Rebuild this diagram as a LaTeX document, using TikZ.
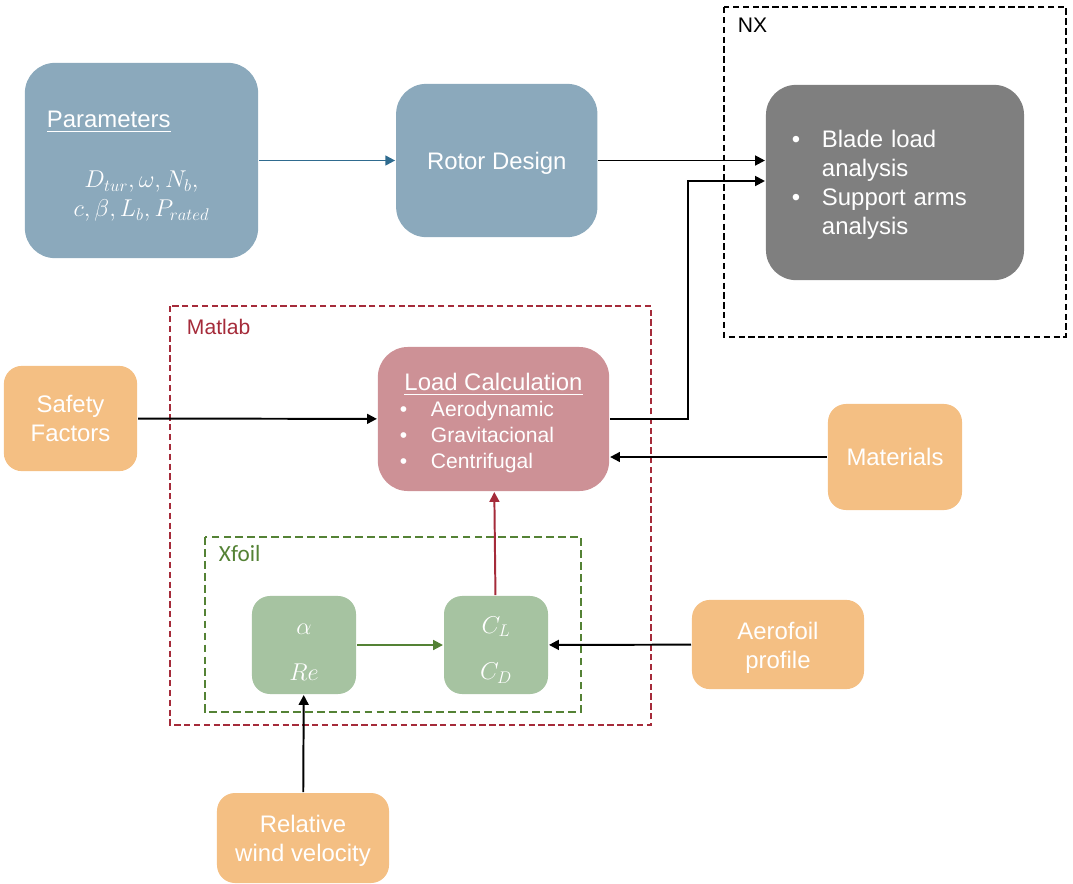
\documentclass[tikz,border=0pt]{standalone}
\usepackage{amsmath}
\usepackage{fontspec}
\setmainfont{Liberation Sans}
\newfontfamily\calibri{Carlito}
\usetikzlibrary{arrows.meta,positioning}

\definecolor{paramblue}{HTML}{8BA9BC}
\definecolor{arrowblue}{HTML}{2F6B8F}
\definecolor{loadpink}{HTML}{CD9196}
\definecolor{inputorange}{HTML}{F4BF83}
\definecolor{xfoilgreen}{HTML}{A6C3A1}
\definecolor{matlabred}{HTML}{A52B3A}
\definecolor{darkgreen}{HTML}{548235}
\definecolor{nxgray}{HTML}{7F7F7F}

\begin{document}
\begin{tikzpicture}[x=0.025cm,y=-0.025cm,>={Triangle[length=7pt,width=7pt]},line width=1.4pt,node distance=2cm,
    block/.style={rounded corners=0.75cm,text=white,font=\fontsize{17}{20.6}\selectfont,align=center,inner sep=0pt},
    bluebox/.style={block,fill=paramblue},
    input/.style={block,fill=inputorange,rounded corners=0.45cm,minimum width=4.3cm,minimum height=2.25cm},
    coeff/.style={block,fill=xfoilgreen,rounded corners=0.45cm,minimum width=2.6cm,minimum height=2.45cm},
    frame/.style={line width=1pt,dash pattern=on 4.5pt off 2.5pt},
    framelabel/.style={anchor=west,inner sep=0pt,font=\fontsize{15}{18}\selectfont}]
      \useasboundingbox (0,0) rectangle (1073,883);

      \draw[frame] (724,7) rectangle (1066,337);
      \node[framelabel] (nxlabel) at (737,25) {NX};
      \draw[frame,matlabred] (170,306) rectangle (651,725);
      \node[framelabel,text=matlabred] (matlablabel) at (186,327) {Matlab};
      \draw[frame,darkgreen,dash pattern=on 5.5pt off 3pt] (205,537) rectangle (581,712);
      \node[framelabel,text=darkgreen,font=\calibri\fontsize{16.5}{20}\selectfont] (xfoillabel) at (218,554) {Xfoil};

      \node[bluebox,minimum width=5.83cm,minimum height=4.88cm] (param) at (141.5,160.5)
        {\rule{0pt}{20pt}\makebox[4.725cm][l]{\underline{Parameters}}\\[22pt]$D_{tur},\omega,N_b,$\\$c,\beta,L_b,P_{rated}$};
      \node[bluebox,minimum width=5.03cm,minimum height=3.83cm] (rotor) [right=3.4cm of param] {\rule{0pt}{16.4pt}Rotor Design};
      \node[block,fill=nxgray,minimum width=6.45cm,minimum height=4.88cm,text width=5.15cm,align=left] (analysis) at (895,182.5)
        {\rule{0pt}{15.7pt}\makebox[0.75cm][l]{\textbullet}Blade load\\\hspace*{0.75cm}analysis\\\makebox[0.75cm][l]{\textbullet}Support arms\\\hspace*{0.75cm}analysis};

      \node[block,fill=loadpink,minimum width=5.78cm,minimum height=3.6cm,font=\fontsize{15}{18.4}\selectfont] (load) at (493.5,419)
        {\rule{0pt}{18pt}{\fontsize{17}{18.4}\selectfont\underline{Load Calculation}}\\
         \makebox[4.675cm][l]{\makebox[0.775cm][l]{\textbullet}Aerodynamic}\\
         \makebox[4.675cm][l]{\makebox[0.775cm][l]{\textbullet}Gravitacional}\\
         \makebox[4.675cm][l]{\makebox[0.775cm][l]{\textbullet}Centrifugal}};
      \node[input,minimum width=3.33cm,minimum height=2.63cm] (safety) at (70.5,418.5) {Safety\\Factors};
      \node[input,minimum width=3.35cm,minimum height=2.65cm] (materials) at (895,457) {Materials};

      \node[coeff] (flow) at (304,645) {\rule{0pt}{17.5pt}$\alpha$\\[12.5pt]$Re$};
      \node[coeff] (coef) [right=2.15cm of flow] {\rule{0pt}{19pt}$C_L$\\[12.5pt]$C_D$};
      \node[input,minimum height=2.23cm] (aerofoil) at (778,644.5) {\rule{0pt}{17pt}Aerofoil\\profile};
      \node[input] (wind) at (303,838) {\rule{0pt}{16.4pt}Relative\\wind velocity};

      \coordinate (bend) at (688,181);

      \path[->]
      (param) edge [arrowblue] (rotor)
      (rotor) edge (rotor.east -| analysis.west)

      (safety) edge (load)
      (materials) edge (materials.west -| load.east)

      (flow) edge [darkgreen] (coef)
      (coef) edge [matlabred] (load)
      (aerofoil) edge (coef)
      (wind) edge (flow)
      ;
      \draw[->] (load) -| (bend) -- (bend -| analysis.west);
    \end{tikzpicture}
\end{document}
